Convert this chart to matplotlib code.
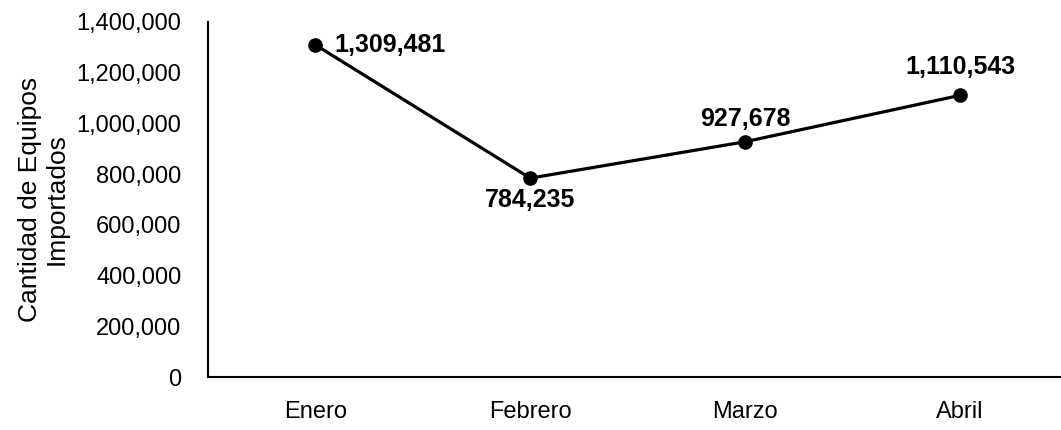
import matplotlib
matplotlib.use("Agg")
import matplotlib.pyplot as plt
from matplotlib import font_manager
from matplotlib.ticker import FuncFormatter

months = ["Enero", "Febrero", "Marzo", "Abril"]
values = [1309481, 784235, 927678, 1110543]
yticks = [0, 200000, 400000, 600000, 800000, 1000000, 1200000, 1400000]

names = {f.name for f in font_manager.fontManager.ttflist}
fam = "Liberation Sans Narrow" if "Liberation Sans Narrow" in names else "Liberation Sans"
plt.rcParams["font.family"] = [fam, "DejaVu Sans"]

fig = plt.figure(figsize=(10.61, 4.30), dpi=100)
ax = fig.add_axes([0.196, 0.123, 0.81, 0.826])
x = list(range(len(months)))
ax.plot(x, values, color="black", lw=2.3, marker="o", ms=9.5, zorder=3)
ax.set_xlim(-0.5, 3.5)
ax.set_ylim(0, 1400000)
ax.set_yticks(yticks)
ax.yaxis.set_major_formatter(FuncFormatter(lambda v, p: f"{int(v):,}"))
ax.set_xticks(x)
ax.set_xticklabels(months)
ax.tick_params(axis="both", length=0, labelsize=17, colors="black")
ax.tick_params(axis="x", pad=17)
ax.tick_params(axis="y", pad=19)
for s in ["top", "right"]:
    ax.spines[s].set_visible(False)
for s in ["left", "bottom"]:
    ax.spines[s].set_linewidth(1.5)
ax.set_ylabel("Cantidad de Equipos\nImportados", fontsize=19, labelpad=6, linespacing=1.15)

offsets = [(14, 0, "left", "center"), (0, -7, "center", "top"),
           (0, 8, "center", "bottom"), (0, 12, "center", "bottom")]
for xi, v, (dx, dy, ha, va) in zip(x, values, offsets):
    ax.annotate(f"{v:,}", (xi, v), xytext=(dx, dy), textcoords="offset points",
                ha=ha, va=va, fontsize=18, fontweight="bold")

fig.savefig("out.png", dpi=100)
